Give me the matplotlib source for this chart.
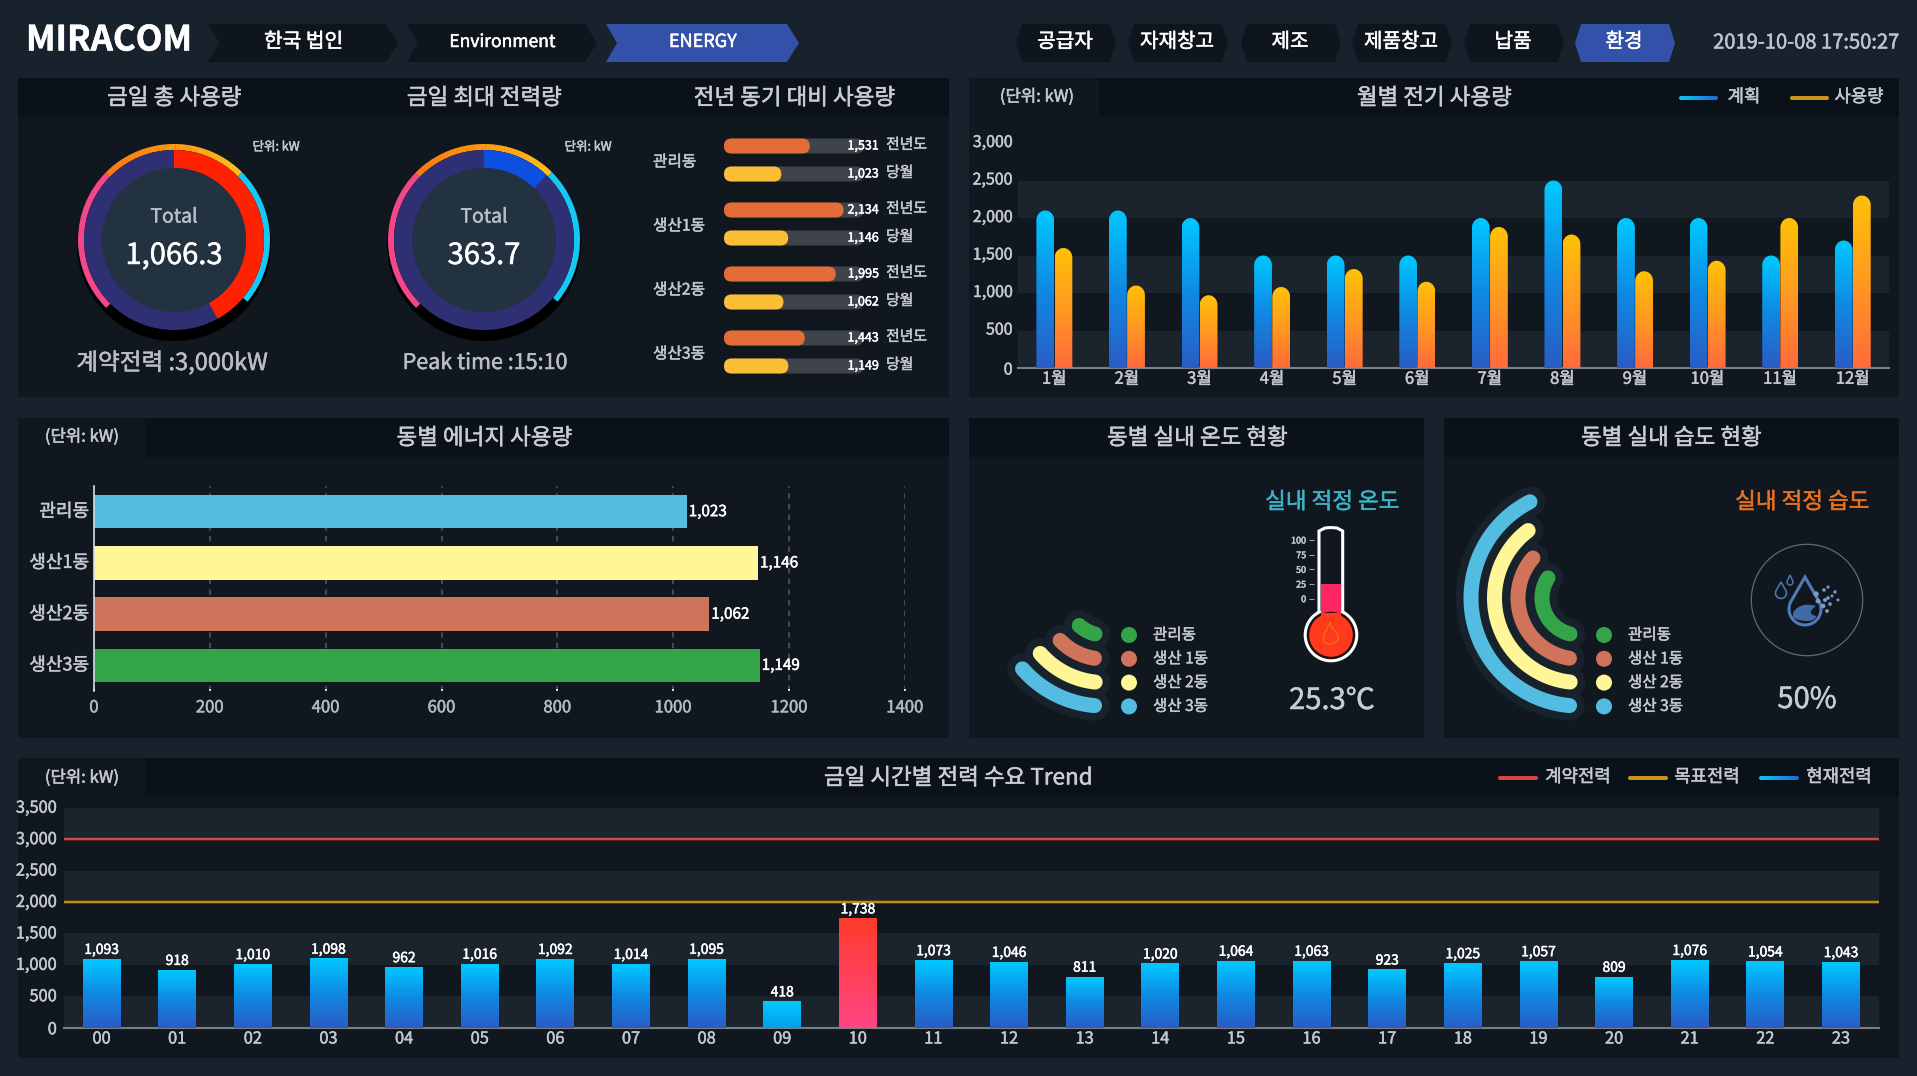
import numpy as np
import matplotlib
matplotlib.use('Agg')
import matplotlib.pyplot as plt
import matplotlib.patheffects as pe
from matplotlib.colors import LinearSegmentedColormap
from matplotlib.patches import Circle, FancyBboxPatch, Polygon, Rectangle, Wedge, PathPatch
from matplotlib.path import Path
from matplotlib.text import Text
from matplotlib.transforms import ScaledTranslation

plt.rcParams['font.family'] = ['Noto Sans CJK KR', 'DejaVu Sans']

W, H = 1917, 1076

# chart values
breadcrumbs = ['한국 법인', 'Environment', 'ENERGY']
process_tabs = ['공급자', '자재창고', '제조', '제품창고', '납품', '환경']
timestamp = '2019-10-08 17:50:27'

gauge_totals = ['1,066.3', '363.7']
gauge_sweep = [151, 44]  # degrees of the inner arc
contract_power = 3000
target_power = 2000

buildings = ['관리동', '생산1동', '생산2동', '생산3동']
last_year = [1531, 2134, 1995, 1443]
this_month = [1023, 1146, 1062, 1149]

months = ['1월', '2월', '3월', '4월', '5월', '6월', '7월', '8월', '9월', '10월', '11월', '12월']
plan = [2100, 2100, 2000, 1500, 1500, 1500, 2000, 2500, 2000, 2000, 1500, 1700]
usage = [1600, 1100, 970, 1080, 1320, 1150, 1880, 1780, 1290, 1430, 2000, 2300]

energy = [1023, 1146, 1062, 1149]

legend_names = ['관리동', '생산 1동', '생산 2동', '생산 3동']
temp_sweep = [28, 37, 43, 44]  # arc length in degrees
humid_sweep = [109, 122, 137, 148]
temperature = 25.3
humidity = 50

hours = ['%02d' % h for h in range(24)]
hourly = [1093, 918, 1010, 1098, 962, 1016, 1092, 1014, 1095, 418, 1738, 1073,
          1046, 811, 1020, 1064, 1063, 923, 1025, 1057, 809, 1076, 1054, 1043]

# colours
BG = '#17222d'
PANEL = '#10171f'
HEAD = '#0b1118'
BAND = '#1b242d'
TXT = '#c3c8cf'
TAB = '#0e151d'
ACTIVE = '#3351a8'
GREEN, SALMON, YELLOW, SKY = '#33a447', '#cf745a', '#fef697', '#52bde0'
dong_colors = [GREEN, SALMON, YELLOW, SKY]
bar_colors = [SKY, YELLOW, SALMON, GREEN]


def cmap2(*cols):
    return LinearSegmentedColormap.from_list('g', cols)


BLUE_G = cmap2('#2a5cc4', '#0f8ae4', '#00c9ff')
ORANGE_G = cmap2('#ff6a3c', '#ff9a20', '#ffc107')
RED_G = cmap2('#ff4684', '#ff3a2c')
CYAN_G = cmap2('#069fe8', '#00c9ff')


def px_axes(x0, y0, x1, y1, **kw):
    ax = fig.add_axes([x0 / W, 1 - y1 / H, (x1 - x0) / W, (y1 - y0) / H], **kw)
    ax.patch.set_visible(False)
    return ax


def grad_fill(ax, x0, x1, y0, y1, cmap, clip=None, zorder=3, horizontal=False):
    g = np.linspace(0, 1, 256)
    g = g.reshape(1, -1) if horizontal else g.reshape(-1, 1)
    im = ax.imshow(g, extent=[x0, x1, y0, y1], origin='lower', aspect='auto',
                   cmap=cmap, zorder=zorder, interpolation='bilinear')
    if clip is not None:
        im.set_clip_path(clip, ax.transData)
    return im


def ring(ax, cx, cy, r, width, a0, a1, color, zorder=2):
    # a0, a1 are screen angles, counter clockwise; the overlay y axis points down
    ax.add_patch(Wedge((cx, cy), r, -a1, -a0, width=width, fc=color, ec='none', zorder=zorder))


def arc_line(ax, cx, cy, r, a0, a1, color, lw, zorder=3):
    t = np.radians(np.linspace(a0, a1, 80))
    ax.plot(cx + r * np.cos(t), cy - r * np.sin(t), color=color, lw=lw,
            solid_capstyle='round', zorder=zorder)


def rounded_top(x0, x1, top, ry):
    # bar outline with an elliptical top, in data units
    t = np.linspace(np.pi, 0, 30)
    xm, rx = (x0 + x1) / 2, (x1 - x0) / 2
    xs = np.r_[x0, xm + rx * np.cos(t), x1]
    ys = np.r_[0, top - ry + ry * np.sin(t), 0]
    return Path(np.c_[xs, ys])


def lift_labels(labels, px):
    # tick labels sit a little above their tick in the reference
    off = ScaledTranslation(0, px / 100, fig.dpi_scale_trans)
    for l in labels:
        l.set_transform(l.get_transform() + off)


fig = plt.figure(figsize=(W / 100, H / 100), dpi=100, facecolor=BG)
bg = fig.add_axes([0, 0, 1, 1], zorder=0)
bg.set_xlim(0, W)
bg.set_ylim(H, 0)
bg.axis('off')


def label(x, y, s, size=11, color=TXT, ha='center', va='center', ax=None, **kw):
    return (ax or bg).text(x, y, s, fontsize=size, color=color, ha=ha, va=va, zorder=6, **kw)


def panel(x0, y0, x1, y1, unit_to=None):
    bg.add_patch(Rectangle((x0, y0), x1 - x0, y1 - y0, fc=PANEL, ec='none', zorder=1))
    hx = unit_to or x0
    bg.add_patch(Rectangle((hx, y0), x1 - hx, 39, fc=HEAD, ec='none', zorder=1))


panel(18, 78, 949, 397)
panel(969, 78, 1899, 397, unit_to=1099)
panel(18, 418, 949, 738, unit_to=145)
panel(969, 418, 1424, 738)
panel(1444, 418, 1899, 738)
panel(18, 758, 1899, 1058, unit_to=145)

# top bar
label(109, 40, 'MIRACOM', size=25, color='white', fontweight='bold')
crumb_x = [208, 407, 606]
crumb_r = [398, 597, 799]
crumb_size = [14.6, 12.6, 13]
for i, name in enumerate(breadcrumbs):
    x0, x1 = crumb_x[i], crumb_r[i]
    fc = ACTIVE if i == 2 else TAB
    bg.add_patch(Polygon([(x0, 24), (x1 - 12, 24), (x1, 43), (x1 - 12, 62), (x0, 62), (x0 + 11, 43)],
                         fc=fc, ec='none', zorder=2))
    label((x0 + x1) / 2 + 0.5, 42, name, size=crumb_size[i], color='white')

tab_x = [1016, 1128, 1241, 1352, 1464, 1575]
for i, name in enumerate(process_tabs):
    x0, x1 = tab_x[i], tab_x[i] + 100
    fc = ACTIVE if i == 5 else TAB
    bg.add_patch(Polygon([(x0 + 6, 24), (x1 - 6, 24), (x1, 43), (x1 - 6, 62), (x0 + 6, 62), (x0, 43)],
                         fc=fc, ec='none', zorder=2))
    label((x0 + x1) / 2 - 1, 42, name, size=14.5, color='white')
label(1806, 43, timestamp, size=14.5, color='#bcc4cf')

# panel titles
for x, y, s in [(174, 98, '금일 총 사용량'), (484, 98, '금일 최대 전력량'), (794, 98, '전년 동기 대비 사용량'),
                (1434, 98, '월별 전기 사용량'), (484, 438, '동별 에너지 사용량'),
                (1197, 438, '동별 실내 온도 현황'), (1671, 438, '동별 실내 습도 현황'),
                (958, 778, '금일 시간별 전력 수요 Trend')]:
    label(x, y, s, size=16.2, color='#c9cdd3')
for x, y in [(1037, 97), (82, 437), (82, 778)]:
    label(x, y, '(단위: kW)', size=12)

# gauges
for cx, total, sweep, col, unit_x in zip([174, 484], gauge_totals, gauge_sweep, ['#ff2200', '#0d4fe0'], [277, 589]):
    cy = 240
    bg.add_patch(Circle((cx, cy + 4), 97, fc='#000000', ec='none', zorder=2))
    ring(bg, cx, cy, 96, 6, 135, 225, '#f4478a', zorder=3)
    ring(bg, cx, cy, 96, 6, -40, 45, '#16c8f4', zorder=3)
    grad = cmap2('#ffc21a', '#ff9a12', '#ff7a14')
    for k in range(45):
        ring(bg, cx, cy, 96, 6, 45 + 2 * k, 45 + 2 * k + 2.2, grad(k / 44), zorder=3)
    bg.add_patch(Circle((cx, cy), 90, fc='#2f2f73', ec='none', zorder=3))
    ring(bg, cx, cy, 90, 18, 90 - sweep, 90, col, zorder=4)
    bg.add_patch(Circle((cx, cy), 72, fc='#233240', ec='none', zorder=4))
    label(cx, 217, 'Total', size=14, color='#b9bec5')
    label(cx, 256, total, size=21, color='white')
    label(unit_x - 1, 147, '단위: kW', size=9)
label(172, 363, '계약전력 :3,000kW', size=17, color='#b9bec5')
label(485, 363, 'Peak time :15:10', size=15.5, color='#b9bec5')

# last year vs this month
ax_cmp = px_axes(724, 130, 864, 380)
ax_cmp.set_xlim(0, 2500)
ax_cmp.set_ylim(380, 130)
ax_cmp.axis('off')
ux = 2500 / 140
for i, b in enumerate(buildings):
    gy = 161 + 64 * i
    label(653, gy + 1, b, size=11.3, ha='left')
    for j, (v, c, tag) in enumerate([(last_year[i], '#e36c37', '전년도'), (this_month[i], '#fbbf36', '당월')]):
        y = gy - 15 + 28 * j
        for val, col in [(2500, '#3f434a'), (v, c)]:
            ax_cmp.add_patch(FancyBboxPatch((0, y - 7.5), val, 15, boxstyle='round,pad=0,rounding_size=%g' % (7.5 * ux),
                                            mutation_aspect=1 / ux, fc=col, ec='none'))
        label(2500 + 15 * ux, y, f'{v:,}', size=9, color='white', ha='right', ax=ax_cmp, clip_on=False)
        label(886, y - 1, tag, size=10.7, ha='left')

# monthly usage
ax_m = px_axes(1018, 143, 1889, 368, zorder=2)
for lo in [0, 1000, 2000]:
    ax_m.axhspan(lo, lo + 500, fc=BAND, ec='none', zorder=1)
bw = 0.245
for i in range(len(months)):
    for val, off, cm in [(plan[i], -0.2465, BLUE_G), (usage[i], 0.0035, ORANGE_G)]:
        x0 = i + off
        p = rounded_top(x0, x0 + bw, val, 130)
        grad_fill(ax_m, x0, x0 + bw, 0, val, cm, clip=p)
ax_m.set_xlim(-0.5, 11.5)
ax_m.set_ylim(0, 3000)
ax_m.set_xticks(range(12), months)
ax_m.set_yticks(range(0, 3001, 500), [f'{v:,}' for v in range(0, 3001, 500)])
ax_m.tick_params(length=0, labelsize=11.5, labelcolor=TXT)
ax_m.tick_params(axis='x', pad=2, labelsize=12)
ax_m.tick_params(axis='y', pad=4)
lift_labels(ax_m.get_yticklabels()[1:], 2.5)
for s in ['top', 'right', 'left']:
    ax_m.spines[s].set_visible(False)
ax_m.spines['bottom'].set_color('#7a7f87')
ax_m.spines['bottom'].set_linewidth(1.5)


def legend_line(x0, x1, y, cm=None, color=None):
    pill = FancyBboxPatch((x0, y - 2), x1 - x0, 4, boxstyle='round,pad=0,rounding_size=2', fc=color or 'none', ec='none', zorder=5)
    bg.add_patch(pill)
    if cm is not None:
        grad_fill(bg, x0, x1, y - 2, y + 2, cm, clip=pill.get_path().transformed(pill.get_patch_transform()), zorder=5, horizontal=True)


LEG_BLUE = cmap2('#12c2f8', '#1c6fd0')
legend_line(1679, 1718, 98, cm=LEG_BLUE)
label(1744, 97, '계획', size=12.8)
legend_line(1790, 1829, 98, color='#c8961c')
label(1859, 97, '사용량', size=12.8)

legend_line(1498, 1538, 778, color='#d9463f')
label(1578, 777, '계약전력', size=12.8)
legend_line(1628, 1668, 778, color='#c8961c')
label(1707, 777, '목표전력', size=12.8)
legend_line(1759, 1799, 778, cm=LEG_BLUE)
label(1839, 777, '현재전력', size=12.8)

# energy per building
ax_e = px_axes(94, 486, 905, 691, zorder=2)
ax_e.barh(range(4), energy, height=0.65, color=bar_colors, zorder=3)
for i, v in enumerate(energy):
    ax_e.annotate(f'{v:,}', (v, i), xytext=(1.5, 0), textcoords='offset points', color='white',
                  fontsize=11, va='center', ha='left', zorder=5)
ax_e.set_xlim(0, 1400)
ax_e.set_ylim(3.5, -0.5)
ax_e.set_xticks(range(0, 1401, 200))
ax_e.set_yticks(range(4), buildings)
ax_e.grid(axis='x', color='#525a64', lw=1.1, ls=(0, (3.5, 3.5)))
ax_e.set_axisbelow(True)
ax_e.tick_params(axis='y', length=0, labelsize=13, labelcolor=TXT, pad=3.5)
ax_e.tick_params(axis='x', length=1.5, width=1.2, color='white', direction='in', labelsize=12, labelcolor='#b4bac2', pad=6)
lift_labels(ax_e.get_yticklabels(), 2)
for s in ['top', 'right', 'bottom']:
    ax_e.spines[s].set_visible(False)
ax_e.spines['left'].set_color('#d8dde3')
ax_e.spines['left'].set_linewidth(1.2)
ax_e.spines['left'].set_zorder(6)

# temperature and humidity arcs
radii = [37, 61, 84.5, 108]
ends = [256, 261, 264, 265]
for cx, sweep, dot_x, txt_x in [(1104, temp_sweep, 1129, 1153), (1579, humid_sweep, 1604, 1628)]:
    for i in range(4):
        arc_line(bg, cx, 598, radii[i], ends[i], ends[i] - sweep[i], '#18222c', 22, zorder=2)
    for i in range(4):
        arc_line(bg, cx, 598, radii[i], ends[i], ends[i] - sweep[i], dong_colors[i], 10.8)
        y = 635 + 23.8 * i
        bg.add_patch(Circle((dot_x, y), 8, fc=dong_colors[i], ec='none', zorder=4))
        label(txt_x, y, legend_names[i], size=11.2, ha='left')

label(1332, 502, '실내 적정 온도', size=16.2, color='#3fb1c4')
label(1802, 502, '실내 적정 습도', size=16.2, color='#e8701e')

# thermometer
t = np.radians(np.linspace(-242.7, 62.7, 80))
tube_x = [1342.7, 1342.7, 1337, 1331, 1325, 1319, 1319]
tube_y = [612, 531, 528, 527.5, 528, 531, 612]
outline = np.c_[np.r_[tube_x, 1331 + 25.8 * np.cos(t)], np.r_[tube_y, 635 - 25.8 * np.sin(t)]]
bg.add_patch(Polygon(outline, closed=True, fc=PANEL, ec='white', lw=2.2, zorder=3))

ax_t = px_axes(1321, 527, 1341, 620, zorder=2)
ax_t.bar(0, temperature + 36.3, bottom=-36.3, width=1, color='#fb2560')
ax_t.set_xlim(-0.5, 0.5)
ax_t.set_ylim(-36.3, 122.1)
ax_t.set_xticks([])
ax_t.set_yticks([0, 25, 50, 75, 100])
ax_t.spines['left'].set_position(('outward', 5))
for s in ax_t.spines.values():
    s.set_visible(False)
ax_t.tick_params(axis='y', length=3.6, width=0.8, color='#9aa0a8', labelsize=6.5, labelcolor=TXT, pad=2)

fg = fig.add_axes([0, 0, 1, 1], zorder=3)
fg.set_xlim(0, W)
fg.set_ylim(H, 0)
fg.axis('off')
fg.patch.set_visible(False)
fg.add_patch(Circle((1331, 635), 22.5, fc='#ff3a1c', ec='#2a0d0a', lw=1))
fg.add_patch(Rectangle((1321, 613), 20, 6, fc='#ff3a1c', ec='none'))
flame = Path([(1330, 622), (1331, 630), (1336, 630), (1338, 636), (1339, 644), (1330, 644), (1329, 644),
              (1322, 644), (1323, 636), (1325, 631), (1326, 634), (1327, 628), (1330, 622)],
             [Path.MOVETO] + [Path.CURVE4] * 12)
fg.add_patch(PathPatch(flame, fc='none', ec='#f2701a', lw=0.9))

label(1332, 701, f'{temperature}℃', size=21, color='#c6ccd6')
label(1807, 700, f'{humidity}%', size=21, color='#c6ccd6')

# humidity icon
ICON = '#4f7cb4'
bg.add_patch(Circle((1807, 600), 55.7, fc='none', ec='#5b6a7e', lw=0.9, zorder=3))


def drop(cx, cy, r, tip, lw):
    t = np.radians(np.linspace(35, -215, 40))
    xs = np.r_[cx, cx + r * np.cos(t)]
    ys = np.r_[tip, cy - r * np.sin(t)]
    bg.add_patch(Polygon(np.c_[xs, ys], closed=True, fc='none', ec=ICON, lw=lw, zorder=4))


drop(1805, 609, 16, 577, 2.2)
drop(1781, 593, 5.5, 582, 1.1)
drop(1790, 582, 3, 575, 1)
wave = Path([(1793, 613), (1798, 603), (1810, 604), (1816, 606), (1810, 611), (1808, 614), (1816, 616), (1817, 617),
             (1813, 621), (1809, 621), (1805, 621), (1797, 621), (1793, 617), (1793, 613)],
            [Path.MOVETO] + [Path.CURVE4] * 12 + [Path.CLOSEPOLY])
bg.add_patch(PathPatch(wave, fc='#3f6aa6', ec='none', zorder=4))
for x, y, r in [(1816, 594, 2.7), (1824, 590, 1.8), (1828, 598, 1.8), (1835, 592, 1.7), (1828, 587, 1.6),
                (1818, 601, 2.4), (1825, 600, 2), (1832, 596, 1.5), (1823, 606, 2.4), (1830, 604, 1.8), (1838, 600, 1.5),
                (1827, 611, 1.9)]:
    bg.add_patch(Circle((x, y), r, fc='#7a99c4', ec='none', zorder=4))

# hourly demand
ax_h = px_axes(63.8, 807.7, 1878.8, 1027.7, zorder=2)
for lo in [0, 1000, 2000, 3000]:
    ax_h.axhspan(lo, lo + 500, fc=BAND, ec='none', zorder=1)
for i, v in enumerate(hourly):
    cm = RED_G if v == max(hourly) else (CYAN_G if v == min(hourly) else BLUE_G)
    grad_fill(ax_h, i - 0.25, i + 0.25, 0, v, cm)
    ax_h.annotate(f'{v:,}', (i, v), xytext=(0, 1.5), textcoords='offset points', ha='center', va='bottom',
                  fontsize=10, color='white', zorder=5)
ax_h.axhline(contract_power, color='#5a1f22', lw=3, zorder=3)
ax_h.axhline(contract_power, color='#e0545a', lw=1.2, zorder=4)
ax_h.axhline(target_power, color='#4d3a10', lw=3, zorder=3)
ax_h.axhline(target_power, color='#cf9e28', lw=1.2, zorder=4)
ax_h.set_xlim(-0.5, 23.5)
ax_h.set_ylim(0, 3500)
ax_h.set_xticks(range(24), hours)
ax_h.set_yticks(range(0, 3501, 500), [f'{v:,}' for v in range(0, 3501, 500)])
ax_h.tick_params(length=0, labelsize=11.8, labelcolor=TXT)
ax_h.tick_params(axis='x', pad=2)
ax_h.tick_params(axis='y', pad=5)
lift_labels(ax_h.get_yticklabels()[1:], 1.5)
for s in ['top', 'right', 'left']:
    ax_h.spines[s].set_visible(False)
ax_h.spines['bottom'].set_color('#7a7f87')
ax_h.spines['bottom'].set_linewidth(1.5)

bg.set_xlim(0, W)
bg.set_ylim(H, 0)

# the reference text is heavier than the regular weight
for ax in fig.axes:
    for tx in ax.findobj(Text):
        tx.set_path_effects([pe.withStroke(linewidth=0.35, foreground=tx.get_color())])

fig.savefig('out.png', dpi=100, facecolor=BG)
